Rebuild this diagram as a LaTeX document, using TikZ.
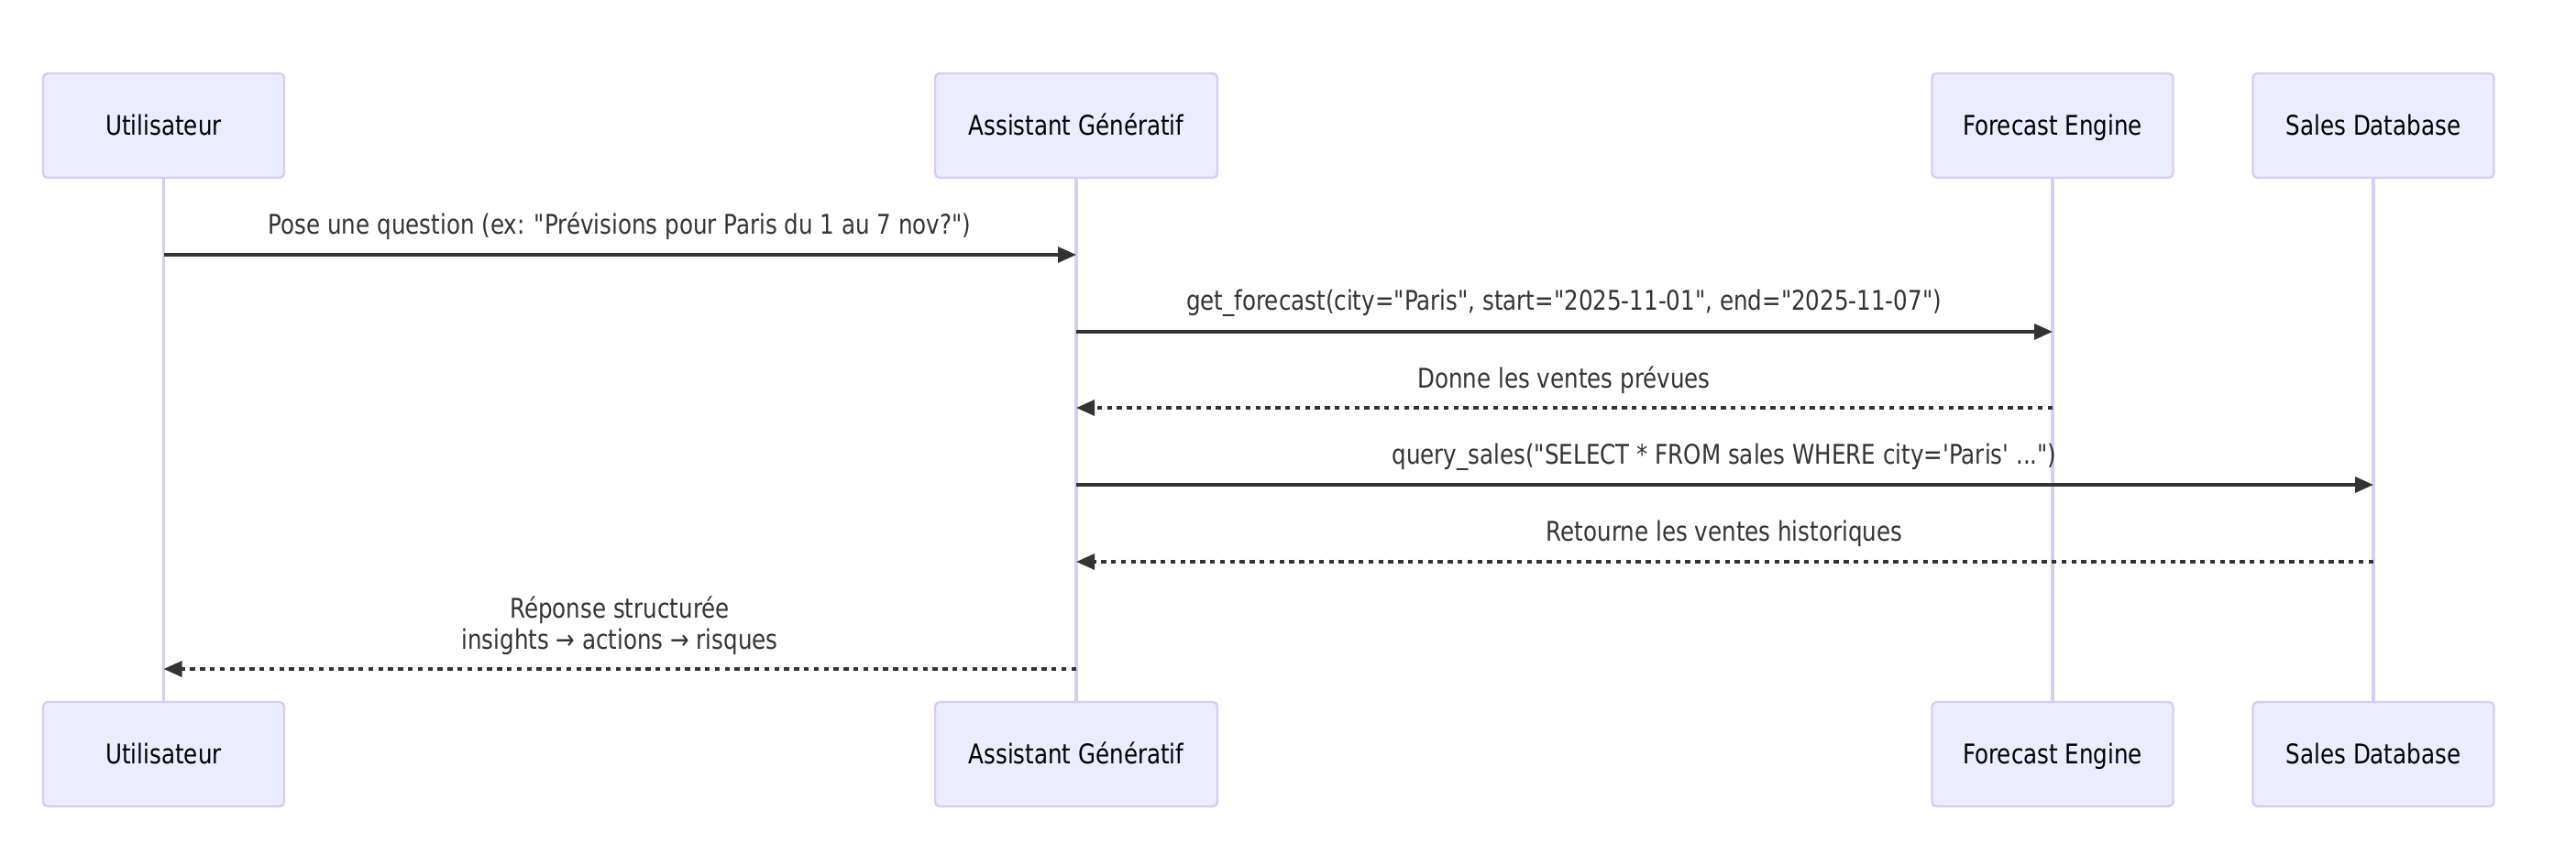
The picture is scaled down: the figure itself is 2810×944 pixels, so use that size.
\documentclass[tikz,border=0pt]{standalone}
\usepackage{fontspec}
\setmainfont{DejaVu Sans}[Ligatures=TeXOff,FakeStretch=0.83]
\usetikzlibrary{arrows.meta}
\definecolor{actorbg}{HTML}{ECECFF}
\definecolor{actorborder}{HTML}{D6CCF4}
\definecolor{msgline}{HTML}{333333}
\tikzset{
  actor/.style={draw=actorborder, fill=actorbg, line width=1.2pt, rounded corners=2.5pt,
    minimum width=131.5pt, minimum height=57pt, text=black,
    text height=12.3pt, text depth=1.9pt,
    font=\fontsize{14.8pt}{17pt}\selectfont},
  life/.style={draw=actorborder, line width=1.6pt},
  msg/.style={draw=msgline, line width=1.6pt, -{Triangle[length=10pt,width=8.5pt]}},
  reply/.style={msg, dash pattern=on 2.7pt off 2.7pt},
  lbl/.style={text=msgline, align=center, inner sep=0pt,
    font=\fontsize{14.8pt}{17pt}\selectfont}
}
\begin{document}
\begin{tikzpicture}[x=0.5pt, y=-0.5pt]
      \useasboundingbox (0,0) rectangle (2810,944);
      \node[actor] (utop) at (178.5,137) {Utilisateur};
      \node[actor, minimum width=154pt] (atop) at (1174,137) {Assistant Génératif};
      \node[actor] (ftop) at (2239,137) {Forecast Engine};
      \node[actor] (stop) at (2589,137) {Sales Database};
      \node[actor] (ubot) at (178.5,823) {Utilisateur};
      \node[actor, minimum width=154pt] (abot) at (1174,823) {Assistant Génératif};
      \node[actor] (fbot) at (2239,823) {Forecast Engine};
      \node[actor] (sbot) at (2589,823) {Sales Database};
      \begin{scope}[life]
        \draw (utop) -- (ubot);
        \draw (atop) -- (abot);
        \draw (ftop) -- (fbot);
        \draw (stop) -- (sbot);
      \end{scope}
      \coordinate (u1) at (178.5,278);
      \coordinate (a1) at (1174,278);
      \coordinate (a2) at (1174,362);
      \coordinate (f2) at (2239,362);
      \coordinate (f3) at (2239,445);
      \coordinate (a3) at (1174,445);
      \coordinate (a4) at (1174,529);
      \coordinate (s4) at (2589,529);
      \coordinate (s5) at (2589,613);
      \coordinate (a5) at (1174,613);
      \coordinate (a6) at (1174,730);
      \coordinate (u6) at (178.5,730);
      \node[lbl] (m1) at (676,247) {Pose une question (ex: "Prévisions pour Paris du 1 au 7 nov?")};
      \node[lbl] (m2) at (1706,331) {get\_forecast(city="Paris", start="2025-11-01", end="2025-11-07")};
      \node[lbl] (m3) at (1706,415) {Donne les ventes prévues};
      \node[lbl] (m4) at (1881,499) {query\_sales("SELECT * FROM sales WHERE city='Paris' ...")};
      \node[lbl] (m5) at (1881,582) {Retourne les ventes historiques};
      \node[lbl] (m6) at (676,683) {Réponse structurée\\insights → actions → risques};
      \begin{scope}
        \draw[msg] (u1) -- (a1);
        \draw[msg] (a2) -- (f2);
        \draw[reply] (f3) -- (a3);
        \draw[msg] (a4) -- (s4);
        \draw[reply] (s5) -- (a5);
        \draw[reply] (a6) -- (u6);
      \end{scope}
    \end{tikzpicture}
\end{document}
